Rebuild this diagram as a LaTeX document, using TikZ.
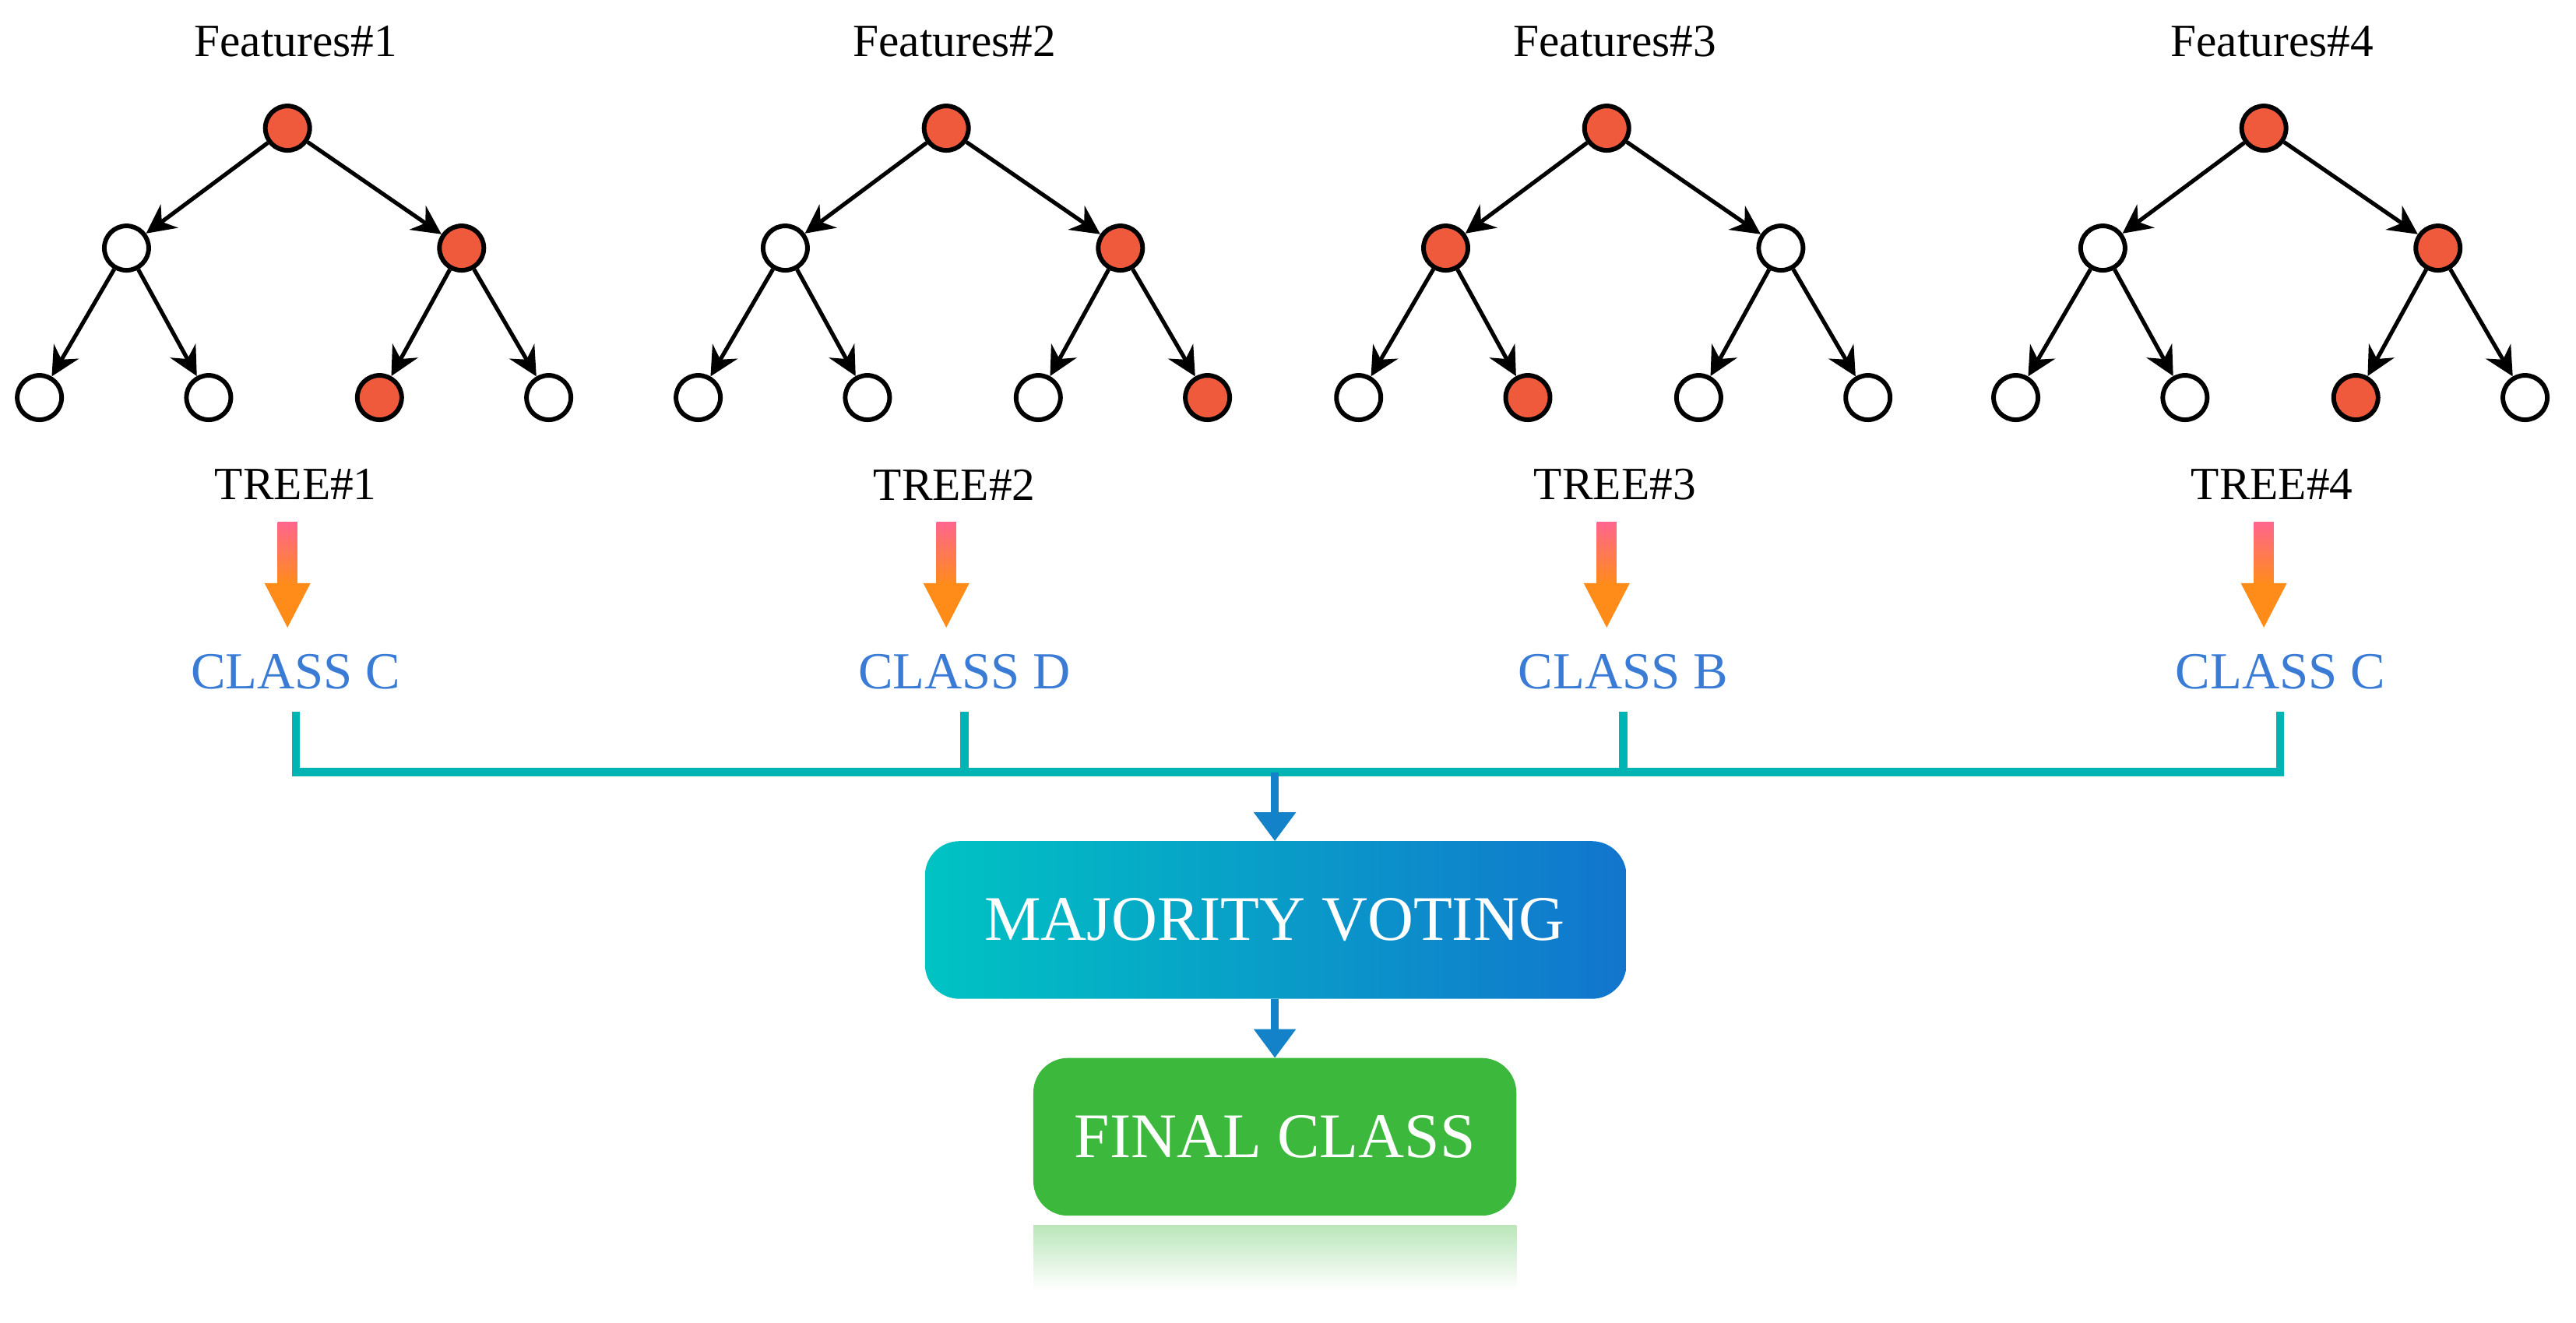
\documentclass[tikz,border=0pt]{standalone}
\usepackage{fontspec}
\setmainfont{Liberation Serif}
\usetikzlibrary{arrows.meta,positioning}
\definecolor{redi}{RGB}{240,90,60}
\definecolor{bluei}{RGB}{58,123,213}
\definecolor{teali}{RGB}{0,180,180}
\definecolor{arrowi}{RGB}{20,130,200}
\definecolor{greeni}{RGB}{60,185,60}
\tikzset{
      mynode/.style={
        circle,
        draw=black,
        line width=0.8pt,
        minimum size=0.27cm,
        inner sep=0pt,
        fill=#1
      },
      myedge/.style={
        -{Stealth[length=5pt,width=5pt]},
        line width=0.7pt
      },
      myclass/.style={
        text=bluei,
        font=\fontsize{9}{11}\selectfont
      },
      mylink/.style={
        teali,
        line width=1.4pt
      },
      myarrow/.style={
        -{Triangle[length=5pt,width=7pt]},
        arrowi,
        line width=1.4pt
      },
    }

\begin{document}
\begin{tikzpicture}[x=0.01cm,y=-0.01cm]
  \useasboundingbox (0,0) rectangle (1568,805);

  %Arbres
  \foreach \t/\x/\ca/\cb/\ll/\lr/\lu/\lv in {
      1/0/white/redi/white/white/redi/white,
      2/401/white/redi/white/white/white/redi,
      3/803/redi/white/white/redi/white/white,
      4/1203/white/redi/white/white/redi/white}{
    \begin{scope}[xshift=\x*0.01cm]
      \node[font=\fontsize{8}{10}\selectfont] (feat\t) at (180,25) {Features\#\t};
      \node[mynode=redi] (root\t) at (175,78) {};
      \node[mynode=\ca] (left\t) at (77,151) {};
      \node[mynode=\cb] (right\t) at (281,151) {};
      \node[mynode=\ll] (la\t) at (24,242) {};
      \node[mynode=\lr] (lb\t) at (127,242) {};
      \node[mynode=\lu] (lc\t) at (231,242) {};
      \node[mynode=\lv] (ld\t) at (334,242) {};
      \draw[myedge] (root\t) -- (left\t);
      \draw[myedge] (root\t) -- (right\t);
      \draw[myedge] (left\t) -- (la\t);
      \draw[myedge] (left\t) -- (lb\t);
      \draw[myedge] (right\t) -- (lc\t);
      \draw[myedge] (right\t) -- (ld\t);
      \node[font=\fontsize{8}{10}\selectfont] (tree\t) at (180,295) {TREE\#\t};
      \shade[top color=red!75!magenta!60, bottom color=orange!90]
        (169,318) rectangle (181,356);
      \fill[orange!90] (161,355) -- (189,355) -- (175,382) -- cycle;
    \end{scope}
  }

  %Classes
  \node[myclass] (class1) at (180,409) {CLASS C};
  \node[myclass] (class2) at (587,409) {CLASS D};
  \node[myclass] (class3) at (988,409) {CLASS B};
  \node[myclass] (class4) at (1388,409) {CLASS C};

  \coordinate (join) at (776,470);
  \foreach \i/\x in {1/180,2/587,3/988,4/1388}
    \coordinate (ltop\i) at (\x,433);
  \draw[mylink] (ltop1) |- (join) -| (ltop4);
  \draw[mylink] (ltop2) -- (ltop2 |- join);
  \draw[mylink] (ltop3) -- (ltop3 |- join);

  %Vote
  \shade[rounded corners=6pt, left color=teali!80!cyan, right color=arrowi!90!blue]
    (563,512) rectangle (990,608);
  \node[text=white, font=\fontsize{11}{13}\selectfont] (vote) at (776,560) {MAJORITY VOTING};
  \coordinate (votetop) at (776,512);
  \coordinate (votebot) at (776,608);

  \fill[greeni, rounded corners=6pt] (629,644) rectangle (923,740);
  \shade[top color=greeni!35, bottom color=white] (629,746) rectangle (923,785);
  \node[text=white, font=\fontsize{11}{13}\selectfont] (final) at (776,692) {FINAL CLASS};
  \coordinate (finaltop) at (776,644);

  \draw[myarrow] (join) -- (votetop);
  \draw[myarrow] (votebot) -- (finaltop);
\end{tikzpicture}
\end{document}
